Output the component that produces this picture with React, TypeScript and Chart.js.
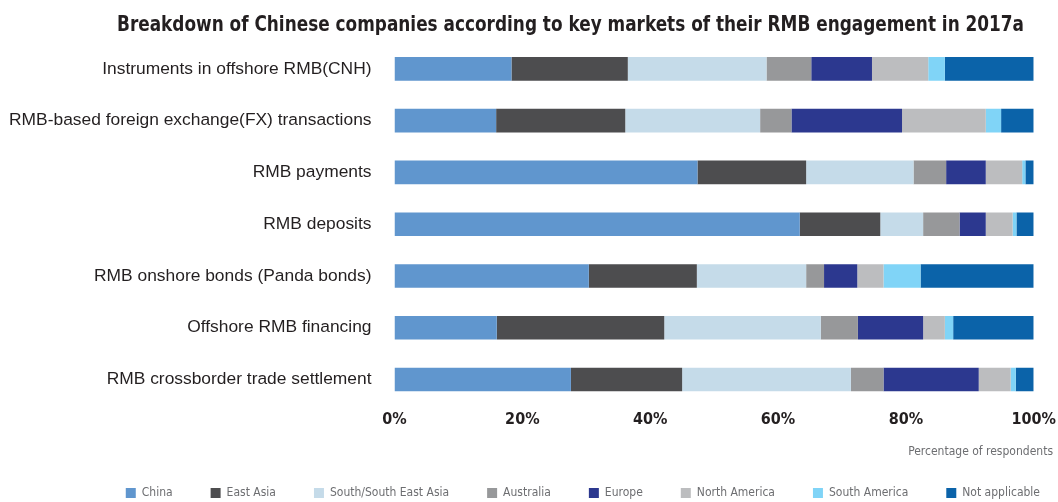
import React, { useEffect, useRef } from "react";
import { Chart, registerables } from "chart.js";

Chart.register(...registerables);

const titleText =
  "Breakdown of Chinese companies according to key markets of their RMB engagement in 2017a";
const axisTitle = "Percentage of respondents";

const categories = [
  "Instruments in offshore RMB(CNH)",
  "RMB-based foreign exchange(FX) transactions",
  "RMB payments",
  "RMB deposits",
  "RMB onshore bonds (Panda bonds)",
  "Offshore RMB financing",
  "RMB crossborder trade settlement",
];

const seriesNames = [
  "China",
  "East Asia",
  "South/South East Asia",
  "Australia",
  "Europe",
  "North America",
  "South America",
  "Not applicable",
];

const china = [18.3, 15.9, 47.4, 63.4, 30.4, 16.0, 27.6];
const eastAsia = [18.2, 20.2, 17.0, 12.6, 16.9, 26.2, 17.4];
const southEastAsia = [21.7, 21.1, 16.8, 6.7, 17.1, 24.5, 26.4];
const australia = [7.0, 4.9, 5.1, 5.7, 2.8, 5.8, 5.1];
const europe = [9.5, 17.3, 6.2, 4.1, 5.2, 10.2, 14.9];
const northAmerica = [8.8, 13.1, 5.7, 4.2, 4.1, 3.4, 5.0];
const southAmerica = [2.6, 2.4, 0.5, 0.6, 5.8, 1.3, 0.8];
const notApplicable = [13.9, 5.1, 1.3, 2.7, 17.7, 12.6, 2.8];

const seriesValues = [
  china,
  eastAsia,
  southEastAsia,
  australia,
  europe,
  northAmerica,
  southAmerica,
  notApplicable,
];

const seriesColors = [
  "#6096ce",
  "#4d4d4f",
  "#c5dbe9",
  "#97989a",
  "#2c388f",
  "#bcbdbf",
  "#80d4f7",
  "#0b63a9",
];

const xMin = 0;
const xMax = 100;
const xStep = 20;

const NARROW =
  "'Liberation Sans Narrow', 'Arial Narrow', 'DejaVu Sans Condensed', 'Liberation Sans', sans-serif";
const REGULAR = "'Liberation Sans', Arial, sans-serif";

const W = 1058;
const H = 502;

export default function App() {
  const ref = useRef<HTMLCanvasElement>(null);

  useEffect(() => {
    const canvas = ref.current;
    if (!canvas) return;

    const layoutTweaks = {
      id: "layoutTweaks",
      afterLayout(chart: any) {
        // let the long category labels extend to the left edge without clipping
        chart.scales.y.left = 0;
        // title spans the same width as in the reference (text is fitted into it)
        const tb = chart.titleBlock;
        if (tb) {
          tb.left = 117;
          tb.right = 1024;
          tb.width = 907;
        }
      },
      afterDraw(chart: any) {
        const { ctx, chartArea } = chart;
        ctx.save();
        ctx.font = `12px ${NARROW}`;
        ctx.fillStyle = "#6d6e71";
        ctx.textAlign = "right";
        ctx.textBaseline = "middle";
        ctx.fillText(axisTitle, chartArea.right + 19.3, 452);
        ctx.restore();
      },
    };

    const chart = new Chart(canvas, {
      type: "bar",
      data: {
        labels: categories,
        datasets: seriesNames.map((name, i) => ({
          label: name,
          data: seriesValues[i],
          backgroundColor: seriesColors[i],
          borderWidth: 0,
          barPercentage: 0.455,
          categoryPercentage: 1,
        })),
      },
      options: {
        indexAxis: "y",
        responsive: false,
        animation: false,
        layout: { padding: { left: 62, right: -20, top: 0, bottom: 0 } },
        scales: {
          x: {
            stacked: true,
            min: xMin,
            max: xMax,
            grid: { display: false, drawTicks: false },
            border: { display: false },
            ticks: {
              stepSize: xStep,
              padding: 5,
              color: "#231f20",
              font: { family: NARROW, size: 16, weight: "bold" },
              callback: (v: any) => `${v}%`,
            },
            afterFit: (scale: any) => {
              scale.height = 43.7;
              scale.paddingRight = 24.3;
            },
          },
          y: {
            stacked: true,
            grid: { display: false, drawTicks: false },
            border: { display: false },
            ticks: {
              padding: 23,
              color: "#231f20",
              font: { family: REGULAR, size: 17.4 },
            },
            afterFit: (scale: any) => {
              scale.width = 394.5 - 62;
            },
          },
        },
        plugins: {
          title: {
            display: true,
            text: titleText,
            color: "#231f20",
            font: { family: NARROW, size: 22, weight: "bold", lineHeight: 1.2 },
            padding: { top: 12, bottom: 4.6 },
          },
          legend: {
            display: true,
            position: "bottom",
            align: "end",
            maxHeight: 53,
            labels: {
              boxWidth: 10,
              boxHeight: 10,
              padding: 38,
              color: "#6d6e71",
              font: { family: NARROW, size: 12 },
            },
          },
          tooltip: { enabled: false },
        },
      },
      plugins: [layoutTweaks],
    } as any);

    return () => chart.destroy();
  }, []);

  return (
    <div
      style={{
        position: "absolute",
        left: 0,
        top: 0,
        width: W,
        height: H,
        background: "#ffffff",
      }}
    >
      <canvas ref={ref} width={W} height={H} style={{ width: W, height: H, display: "block" }} />
    </div>
  );
}
